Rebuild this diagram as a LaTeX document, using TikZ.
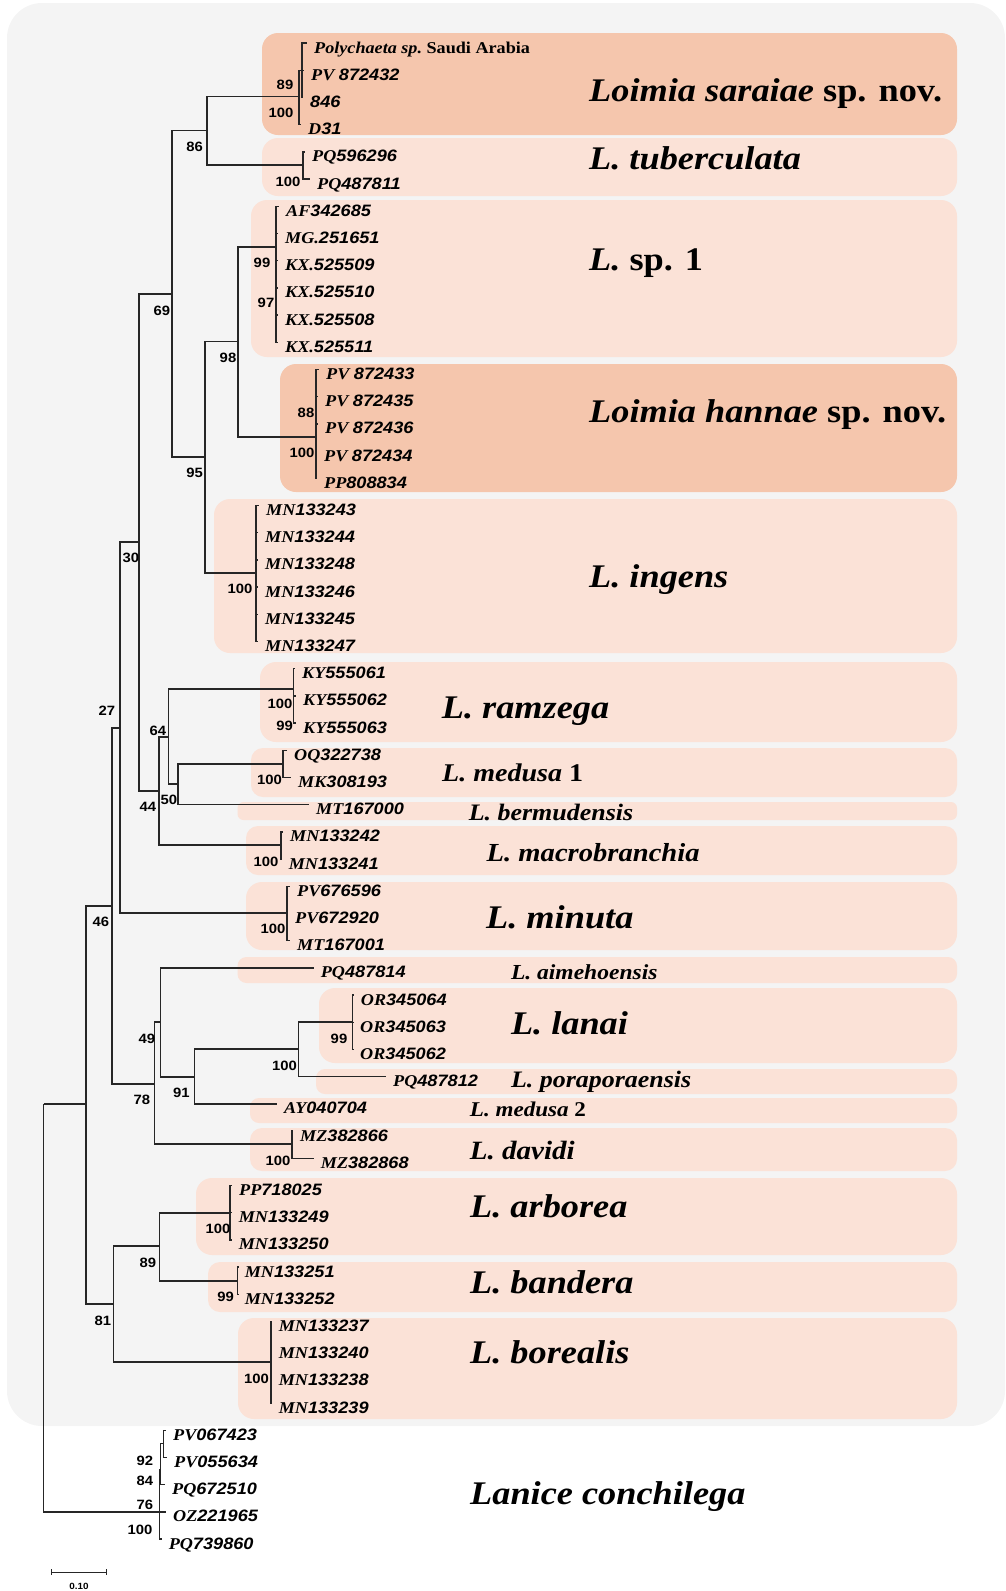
\documentclass[tikz,border=0pt]{standalone}
\usepackage{fontspec}
\setmainfont{Liberation Serif}[FakeStretch=1.1]
\setsansfont{Liberation Sans}[FakeStretch=1.1]
\usepackage{tikz}

\definecolor{panelgray}{HTML}{F4F4F4}
\definecolor{newsp}{HTML}{F5C6AD}
\definecolor{knownsp}{HTML}{FBE2D7}

\tikzset{
  branch/.style={line width=1.4pt, black!85},
  tip/.style={anchor=west, inner xsep=7pt, inner ysep=0pt, text height=20pt, text depth=0pt,
    font=\fontsize{16.5}{18}\selectfont\bfseries\itshape},
  boot/.style={inner sep=0pt, font=\sffamily\bfseries\fontsize{13.5}{14}\selectfont},
  clade/.style={anchor=base west, inner sep=0pt, font=\fontsize{33}{36}\selectfont\bfseries\itshape},
  newbox/.style={fill=newsp, rounded corners=16pt},
  oldbox/.style={fill=knownsp, rounded corners=16pt}
}
\newcommand\acc[2]{#1{\sffamily #2}}

\begin{document}
\begin{tikzpicture}[x=1pt, y=-1pt]
\useasboundingbox (0,0) rectangle (1006,1591);
\fill[panelgray, rounded corners=35pt] (7,3) rectangle (1005,1426);

% clade boxes
\fill[newbox] (262,33) rectangle (957,135);
\fill[oldbox] (262,138) rectangle (957,196);
\fill[oldbox] (251,200) rectangle (957,357);
\fill[newbox] (280,364) rectangle (957,492);
\fill[oldbox] (214,499) rectangle (957,653);
\fill[oldbox] (260,662) rectangle (957,742);
\fill[oldbox, rounded corners=12pt] (251,748) rectangle (957,797);
\fill[oldbox, rounded corners=6pt] (237.5,802) rectangle (957,820);
\fill[oldbox, rounded corners=12pt] (246,826) rectangle (957,875);
\fill[oldbox] (246,882) rectangle (957,950);
\fill[oldbox, rounded corners=9pt] (237.5,957) rectangle (957,983);
\fill[oldbox] (319,988) rectangle (957,1063);
\fill[oldbox, rounded corners=9pt] (316,1069) rectangle (957,1094);
\fill[oldbox, rounded corners=9pt] (250,1098) rectangle (957,1123);
\fill[oldbox, rounded corners=12pt] (250,1128) rectangle (957,1171);
\fill[oldbox] (196,1178) rectangle (957,1255);
\fill[oldbox, rounded corners=12pt] (208,1262) rectangle (957,1312);
\fill[oldbox] (238,1318) rectangle (957,1419);

% tips
\foreach \x/\a/\b [count=\i from 0] in {
  314/{Polychaeta sp.~\upshape Saudi Arabia}/{}, 311/{PV~}/872432, 310/{}/846, 308/D/31,
  312/PQ/596296, 317/PQ/487811,
  286/AF/342685, 285/{MG.}/251651, 285/{KX.}/525509, 285/{KX.}/525510, 285/{KX.}/525508, 285/{KX.}/525511,
  326/{PV~}/872433, 325/{PV~}/872435, 325/{PV~}/872436, 324/{PV~}/872434, 324/PP/808834,
  266/MN/133243, 265/MN/133244, 265/MN/133248, 265/MN/133246, 265/MN/133245, 265/MN/133247,
  302/KY/555061, 303/KY/555062, 303/KY/555063,
  294/OQ/322738, 298/MK/308193, 316/MT/167000,
  290/MN/133242, 288.6/MN/133241,
  297/PV/676596, 295/PV/672920, 297/MT/167001,
  320.7/PQ/487814, 360.7/OR/345064, 360/OR/345063, 360/OR/345062, 393/PQ/487812, 284/AY/040704,
  300/MZ/382866, 320.7/MZ/382868,
  239/PP/718025, 238.6/MN/133249, 238.6/MN/133250, 244.6/MN/133251, 244.6/MN/133252,
  278.6/MN/133237, 278.6/MN/133240, 278.6/MN/133238, 278.6/MN/133239,
  173/PV/067423, 174/PV/055634, 172/PQ/672510, 173/OZ/221965, 168.6/PQ/739860}
  \node[tip] (t\i) at ({\x-7},{43+27.2*\i}) {\acc{\a}{\b}};

% internal nodes
\coordinate (root) at (43.6,1104);
\coordinate (nA) at (86,1104);
\coordinate (n46) at (112,906);
\coordinate (n27) at (120,728);
\coordinate (n30) at (139,542);
\coordinate (n69) at (172,294);
\coordinate (n86) at (207,130.7);
\coordinate (n95) at (205,457);
\coordinate (n98) at (238,341.7);
\coordinate (n44) at (159,791);
\coordinate (n64) at (168.6,737);
\coordinate (n50) at (178,784);
\coordinate (n78) at (154.6,1084);
\coordinate (n49) at (160.7,1022);
\coordinate (n91) at (194.6,1077);
\coordinate (n100) at (298.6,1049);
\coordinate (n81) at (113.6,1304);
\coordinate (n89) at (159.6,1246);
\coordinate (cSar) at (299,96.7);
\coordinate (sSar) at (302,70.2);
\coordinate (cTub) at (303,165);
\coordinate (cSp1) at (276,247);
\coordinate (cHan) at (316,437);
\coordinate (cIng) at (256,573);
\coordinate (cRam) at (293.6,689);
\coordinate (cMed1) at (283,764);
\coordinate (cMac) at (281,845);
\coordinate (cMin) at (287,913);
\coordinate (cLan) at (352.5,1022);
\coordinate (cDav) at (292,1144);
\coordinate (cArb) at (230,1213);
\coordinate (cBan) at (237.5,1281);
\coordinate (cBor) at (271,1362);
\coordinate (cLc) at (159.3,1512);
\coordinate (sL2) at (160.7,1470);
\coordinate (sL1) at (163.3,1443.6);

% branches
\foreach \p/\c in {root/nA, root/cLc, nA/n46, nA/n81, n46/n27, n46/n78, n27/n30, n27/cMin,
  n30/n69, n30/n44, n69/n86, n69/n95, n86/cSar, n86/cTub, n95/n98, n95/cIng, n98/cSp1, n98/cHan,
  n44/n64, n44/cMac, n64/cRam, n64/n50, n50/cMed1, n50/t28, n78/n49, n78/cDav, n49/t34, n49/n91,
  n91/n100, n91/t39, n100/cLan, n100/t38, n81/n89, n81/cBor, n89/cArb, n89/cBan,
  cSar/sSar, cLc/sL2, sL2/sL1}
  \draw[branch] (\p) |- (\c);
\foreach \c/\first/\last in {sSar/0/2, cSar/3/3, cTub/4/5, cSp1/6/11, cHan/12/16, cIng/17/22,
  cRam/23/25, cMed1/26/27, cMac/29/30, cMin/31/33, cLan/35/37, cDav/40/41, cArb/42/44,
  cBan/45/46, cBor/47/50, sL1/51/52, sL2/53/53, cLc/54/55}
  \foreach \k in {\first,...,\last}
    \draw[branch] (\c) |- (t\k);

% bootstrap values
\node[boot] (bSar89) at (285,85) {89};
\node[boot] (bSar100) at (281,113) {100};
\node[boot] (b86) at (194.6,146.7) {86};
\node[boot] (bTub100) at (288,181.7) {100};
\node[boot] (bSp99) at (262,263) {99};
\node[boot] (bSp97) at (266,303) {97};
\node[boot] (b69) at (162,310.7) {69};
\node[boot] (b98) at (228,358) {98};
\node[boot] (bHan88) at (306,412.7) {88};
\node[boot] (bHan100) at (302,453) {100};
\node[boot] (b95) at (194.6,473) {95};
\node[boot] (bIng100) at (240,589) {100};
\node[boot] (b30) at (131,558) {30};
\node[boot] (bRam100) at (280,704) {100};
\node[boot] (bRam99) at (284.6,725.7) {99};
\node[boot] (b64) at (158,730.7) {64};
\node[boot] (b27) at (107,710.7) {27};
\node[boot] (bMed100) at (269.6,780) {100};
\node[boot] (b50) at (169,800) {50};
\node[boot] (b44) at (148,806.7) {44};
\node[boot] (bMac100) at (266,861.7) {100};
\node[boot] (bMin100) at (273,929) {100};
\node[boot] (b46) at (101,922.3) {46};
\node[boot] (b49) at (147,1039) {49};
\node[boot] (bLan99) at (339,1039) {99};
\node[boot] (b100) at (284.6,1066) {100};
\node[boot] (b91) at (181.4,1092.7) {91};
\node[boot] (b78) at (142,1100) {78};
\node[boot] (bDav100) at (278,1160.7) {100};
\node[boot] (bArb100) at (218,1229) {100};
\node[boot] (b89) at (148,1262.7) {89};
\node[boot] (bBan99) at (225.7,1297.3) {99};
\node[boot] (b81) at (103,1321) {81};
\node[boot] (bBor100) at (256.4,1379.3) {100};
\node[boot] (bLc92) at (145,1460.7) {92};
\node[boot] (bLc84) at (145,1480.7) {84};
\node[boot] (bLc76) at (145,1505) {76};
\node[boot] (bLc100) at (140,1530) {100};

% species names
\node[clade] (lSar) at (589,101.8) {Loimia saraiae \upshape sp. nov.};
\node[clade] (lTub) at (589,169.6) {L. tuberculata};
\node[clade] (lSp1) at (589,270) {L. \upshape sp. 1};
\node[clade] (lHan) at (589,422) {Loimia hannae \upshape sp. nov.};
\node[clade] (lIng) at (589,587) {L. ingens};
\node[clade] (lRam) at (441.7,718) {L. ramzega};
\node[clade, font=\fontsize{25.5}{28}\selectfont\bfseries\itshape] (lMed1) at (442,781.7) {L. medusa \upshape 1};
\node[clade, font=\fontsize{23.6}{26}\selectfont\bfseries\itshape] (lBer) at (468.6,820) {L. bermudensis};
\node[clade, font=\fontsize{26}{28}\selectfont\bfseries\itshape] (lMac) at (486.5,861.7) {L. macrobranchia};
\node[clade] (lMin) at (486,928) {L. minuta};
\node[clade, font=\fontsize{21.4}{24}\selectfont\bfseries\itshape] (lAim) at (510.8,979) {L. aimehoensis};
\node[clade] (lLan) at (510.8,1034) {L. lanai};
\node[clade, font=\fontsize{23.6}{26}\selectfont\bfseries\itshape] (lPor) at (510.8,1087.7) {L. poraporaensis};
\node[clade, font=\fontsize{21}{24}\selectfont\bfseries\itshape] (lMed2) at (469.7,1116) {L. medusa \upshape 2};
\node[clade, font=\fontsize{26.4}{28}\selectfont\bfseries\itshape] (lDav) at (469.7,1159) {L. davidi};
\node[clade] (lArb) at (470,1217.7) {L. arborea};
\node[clade] (lBan) at (470,1293) {L. bandera};
\node[clade] (lBor) at (470,1363) {L. borealis};
\node[clade] (lLc) at (470,1504) {Lanice conchilega};

% scale bar
\coordinate (sb0) at (51.8,1572);
\coordinate (sb1) at (106.4,1572);
\draw[line width=1pt, black!85] (sb0) -- (sb1);
\draw[line width=1pt, black!85] (sb0) ++(0,-3) -- ++(0,6);
\draw[line width=1pt, black!85] (sb1) ++(0,-3) -- ++(0,6);
\node[boot, font=\sffamily\bfseries\fontsize{9}{10}\selectfont] (sbl) at (79,1586) {0.10};
\end{tikzpicture}
\end{document}
